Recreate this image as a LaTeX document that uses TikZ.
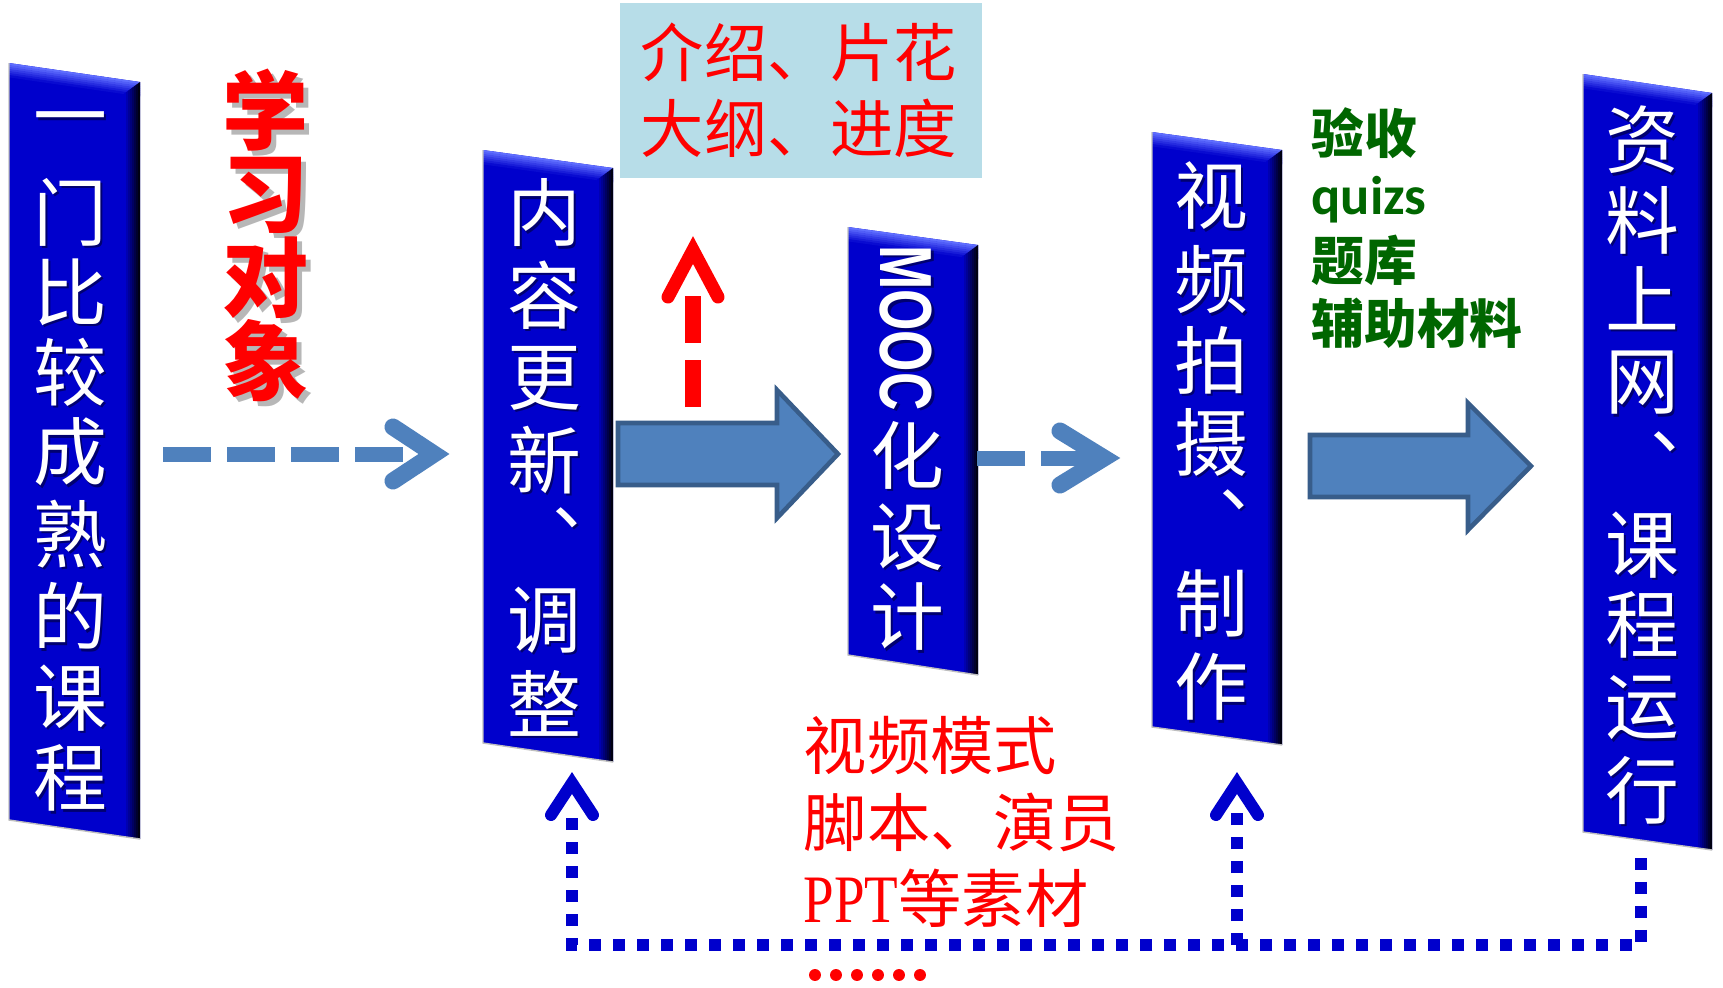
\documentclass[tikz,border=0pt]{standalone}
\usepackage{fontspec}
\usepackage{graphicx}
\usetikzlibrary{calc}
\newfontfamily\cjk{Noto Sans CJK SC}
\newfontfamily\lsans{Liberation Sans}
\newfontfamily\lserif{Liberation Serif}
\newfontfamily\carl{Carlito}
\definecolor{pblue}{RGB}{0,0,204}
\definecolor{plight}{RGB}{95,110,255}
\definecolor{ablue}{RGB}{79,129,189}
\definecolor{aline}{RGB}{56,93,138}
\definecolor{lblue}{RGB}{183,221,232}
\definecolor{dgreen}{RGB}{0,102,0}
\definecolor{dotblue}{RGB}{0,0,204}
\tikzset{
 chw/.style={text=white, inner sep=0pt, font=\cjk\fontsize{21pt}{21pt}\selectfont},
 chs/.style={text=black, opacity=0.45, inner sep=0pt, font=\cjk\fontsize{21pt}{21pt}\selectfont},
 redbig/.style={text=red, inner sep=0pt, font=\cjk\bfseries\fontsize{24.5pt}{24.5pt}\selectfont},
 redbigs/.style={text=black!40, opacity=0.7, inner sep=0pt, font=\cjk\bfseries\fontsize{24.5pt}{24.5pt}\selectfont},
 redtxt/.style={text=red, inner sep=0pt, anchor=west, font=\cjk\fontsize{18pt}{18pt}\selectfont},
 greentxt/.style={text=dgreen, inner sep=0pt, anchor=west, font=\cjk\bfseries\fontsize{15pt}{15pt}\selectfont},
 dashline/.style={draw=ablue, line width=4.27pt, dash pattern=on 13.66pt off 4.55pt},
 chevblue/.style={draw=ablue, line width=4.84pt, line cap=round, line join=miter},
 redshaft/.style={draw=red, line width=4.27pt, dash pattern=on 13.37pt off 4.84pt},
 chevred/.style={draw=red, line width=3.7pt, line cap=round, line join=miter},
 dotline/.style={draw=dotblue, line width=3.41pt, dash pattern=on 3.41pt off 3.41pt},
 chevdot/.style={draw=dotblue, line width=3.41pt, line cap=round, line join=miter},
 bigarrow/.style={fill=ablue, draw=aline, line width=1.3pt, line join=miter},
}
% #1 name, #2 L, #3 R, #4 TL, #5 TR, #6 BL, #7 BR
\newcommand\panel[7]{%
 \coordinate (#1-nw) at (#2,#4);
 \coordinate (#1-ne) at (#3,#5);
 \coordinate (#1-sw) at (#2,#6);
 \coordinate (#1-se) at (#3,#7);
 \fill[pblue] (#1-nw) -- (#1-ne) -- (#1-se) -- (#1-sw) -- cycle;
 \foreach \i in {0,...,6}{%
   \pgfmathtruncatemacro\pcA{100-\i*15}
   \fill[plight!\pcA!pblue] ($(#1-nw)+(0,2*\i)$) -- ($(#1-ne)+(0,2*\i)$) -- ($(#1-ne)+(0,2*\i+2.4)$) -- ($(#1-nw)+(0,2*\i+2.4)$) -- cycle;
 }
 \foreach \j in {0,...,7}{%
   \pgfmathsetmacro\pxa{#3-16+2*\j}
   \pgfmathsetmacro\pxb{\pxa+2.2}
   \pgfmathsetmacro\slpA{(#5-#4)/(#3-#2)}
   \pgfmathsetmacro\slpB{(#7-#6)/(#3-#2)}
   \pgfmathsetmacro\pya{#4+\slpA*(\pxa-#2)+14*(#3-\pxa)/16}
   \pgfmathsetmacro\pyb{#4+\slpA*(\pxb-#2)+14*(#3-\pxb)/16}
   \pgfmathsetmacro\pyc{#6+\slpB*(\pxb-#2)}
   \pgfmathsetmacro\pyd{#6+\slpB*(\pxa-#2)}
   \pgfmathtruncatemacro\pcB{100-\j*13}
   \fill[pblue!\pcB!black] (\pxa,\pya) -- (\pxb,\pyb) -- (\pxb,\pyc) -- (\pxa,\pyd) -- cycle;
 }
 \draw[black!25, line width=0.4pt] (#1-nw) -- (#1-sw) -- (#1-se);
}
\newcommand\ch[4]{\node[chs] (#1s) at (#2+2.5,#3+2.5) {#4}; \node[chw] (#1) at (#2,#3) {#4};}
% vertical ideographic comma, placed by the centre of its em cell
\newcommand\vcomma[3]{\node[chs, anchor=base] (#1s) at (#2+2.5,#3+30.5) {︑}; \node[chw, anchor=base] (#1) at (#2,#3+28) {︑};}
\begin{document}
\begin{tikzpicture}[x=0.01cm,y=-0.01cm]
\useasboundingbox (0,0) rectangle (1723,987);
\fill[white] (0,0) rectangle (1723,987);

% panels
\panel{b1}{9}{140}{63}{82}{820}{839}
\panel{b2}{483}{613}{150}{168}{743}{762}
\panel{b3}{848}{978}{227}{245}{655}{675}
\panel{b4}{1152}{1282}{132}{150}{727}{745}
\panel{b5}{1583}{1712}{74}{93}{832}{850}

% panel 1 text
\ch{b1a}{70}{128}{一}
\ch{b1b}{70}{212}{门}
\ch{b1c}{70}{292}{比}
\ch{b1d}{70}{372}{较}
\ch{b1e}{70}{452}{成}
\ch{b1f}{70}{534}{熟}
\ch{b1g}{70}{616}{的}
\ch{b1h}{70}{698}{课}
\ch{b1i}{70}{778}{程}
% panel 2 text
\ch{b2a}{544}{213}{内}
\ch{b2b}{544}{295}{容}
\ch{b2c}{544}{378}{更}
\ch{b2d}{544}{460}{新}
\vcomma{b2e}{544}{540}
\ch{b2f}{544}{620}{调}
\ch{b2g}{544}{703}{整}
% panel 3 text
\node[chs, font=\lsans\bfseries\fontsize{21pt}{21pt}\selectfont, rotate=-90] (b3ms) at (908.5,330.5) {\scalebox{0.72}[1]{MOOC}};
\node[chw, font=\lsans\bfseries\fontsize{21pt}{21pt}\selectfont, rotate=-90] (b3m) at (906,328) {\scalebox{0.72}[1]{MOOC}};
\ch{b3a}{907}{455}{化}
\ch{b3b}{907}{537}{设}
\ch{b3c}{907}{617}{计}
% panel 4 text
\ch{b4a}{1211}{196}{视}
\ch{b4b}{1211}{280}{频}
\ch{b4c}{1211}{360}{拍}
\ch{b4d}{1211}{442}{摄}
\vcomma{b4e}{1211}{522}
\ch{b4f}{1211}{604}{制}
\ch{b4g}{1211}{687}{作}
% panel 5 text
\ch{b5a}{1642}{140}{资}
\ch{b5b}{1642}{220}{料}
\ch{b5c}{1642}{298}{上}
\ch{b5d}{1642}{383}{网}
\vcomma{b5e}{1642}{464}
\ch{b5f}{1642}{545}{课}
\ch{b5g}{1642}{625}{程}
\ch{b5h}{1642}{708}{运}
\ch{b5i}{1642}{790}{行}

% red vertical label
\node[redbigs] (l1s) at (271,115) {学};
\node[redbigs] (l2s) at (271,200) {习};
\node[redbigs] (l3s) at (271,283) {对};
\node[redbigs] (l4s) at (271,366) {象};
\node[redbig] (l1) at (266,110) {学};
\node[redbig] (l2) at (266,195) {习};
\node[redbig] (l3) at (266,278) {对};
\node[redbig] (l4) at (266,361) {象};

% top light-blue box
\fill[lblue] (620,3) rectangle (982,178);
\node[redtxt] (t1) at (640,52) {介绍、片花};
\node[redtxt] (t2) at (640,128) {大纲、进度};

% green list
\node[greentxt] (g1) at (1311,133) {验收};
\node[greentxt, font=\carl\bfseries\fontsize{15.5pt}{15.5pt}\selectfont] (g2) at (1311,200) {quizs};
\node[greentxt] (g3) at (1311,260) {题库};
\node[greentxt] (g4) at (1311,323) {辅助材料};

% bottom red text
\node[redtxt] (r1) at (803,745) {视频模式};
\node[redtxt] (r2) at (803,822) {脚本、演员};
\node[redtxt] (r3) at (803,898) {{\lserif\fontsize{19.3pt}{19.3pt}\selectfont\scalebox{0.81}[1]{PPT}}等素材};

% dashed arrow 1 -> 2
\coordinate (a1s) at (163,454);
\coordinate (a1e) at (403,454);
\coordinate (a1t) at (434,454);
\draw[dashline] (a1s) -- (a1e);
\draw[chevblue] ($(a1t)+(-41,-27)$) -- (a1t) -- ($(a1t)+(-41,27)$);

% big arrow 2 -> 3
\coordinate (a2s) at (618,454);
\draw[bigarrow] ($(a2s)+(0,-31)$) -- ($(a2s)+(159,-31)$) -- ($(a2s)+(159,-64)$) -- ($(a2s)+(220,0)$) -- ($(a2s)+(159,64)$) -- ($(a2s)+(159,31)$) -- ($(a2s)+(0,31)$) -- cycle;

% red dashed up arrow
\coordinate (a3s) at (693,407);
\coordinate (a3e) at (693,296);
\coordinate (a3t) at (693,250);
\draw[redshaft] (a3s) -- (a3e);
\draw[chevred] ($(a3t)+(-25,47)$) -- (a3t) -- ($(a3t)+(25,47)$);

% dashed arrow 3 -> 4
\coordinate (a4s) at (977,458);
\coordinate (a4e) at (1089,458);
\coordinate (a4t) at (1104,458);
\draw[dashline] (a4s) -- (a4e);
\draw[chevblue] ($(a4t)+(-44,-27)$) -- (a4t) -- ($(a4t)+(-44,27)$);

% big arrow 4 -> 5
\coordinate (a5s) at (1310,466);
\draw[bigarrow] ($(a5s)+(0,-31)$) -- ($(a5s)+(158,-31)$) -- ($(a5s)+(158,-63)$) -- ($(a5s)+(221,0)$) -- ($(a5s)+(158,64)$) -- ($(a5s)+(158,31)$) -- ($(a5s)+(0,31)$) -- cycle;

% dotted feedback loop
\coordinate (d5) at (1641,858);
\coordinate (c5) at (1641,945);
\coordinate (c4) at (1237,945);
\coordinate (c2) at (572,945);
\coordinate (d2) at (572,813);
\coordinate (d4) at (1237,813);
\coordinate (t2a) at (572,783);
\coordinate (t4a) at (1237,783);
\draw[dotline] (d5) -- (c5) -- (c2) -- (d2);
\draw[dotline] (c4) -- (d4);
\draw[chevdot] ($(t2a)+(-21,32)$) -- (t2a) -- ($(t2a)+(21,32)$);
\draw[chevdot] ($(t4a)+(-21,32)$) -- (t4a) -- ($(t4a)+(21,32)$);

% red ellipsis dots
\foreach \k in {0,...,5} \fill[red] (815+21*\k,975) circle (1.7pt);
\end{tikzpicture}
\end{document}
